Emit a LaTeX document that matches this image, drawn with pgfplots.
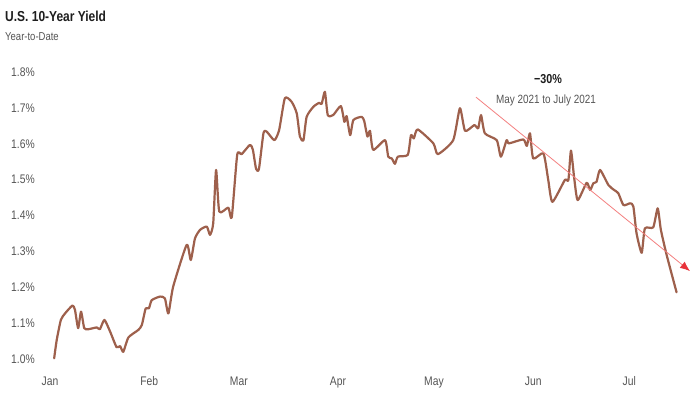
\documentclass[border=0pt]{standalone}
\usepackage{fontspec}
\setmainfont[FakeStretch=0.83]{Liberation Sans}
\usepackage{pgfplots}
\pgfplotsset{compat=1.18}
\usetikzlibrary{arrows.meta}
\definecolor{yieldline}{RGB}{158,96,76}
\definecolor{ticklab}{RGB}{85,85,85}
\definecolor{titlecol}{RGB}{30,30,30}
\definecolor{trendline}{RGB}{244,128,128}
\definecolor{trendhead}{RGB}{232,50,58}
\begin{document}
\begin{tikzpicture}
\useasboundingbox (0,0) rectangle (700bp,399bp);
\fill[white] (0,0) rectangle (700bp,399bp);
\begin{axis}[
  at={(40bp,40bp)}, anchor=south west,
  scale only axis, width=655bp, height=287bp,
  xmin=-3.125, xmax=201.5625, ymin=1.0, ymax=1.8,
  clip=false,
  axis line style={draw=none},
  tick style={draw=none},
  xtick={0,31,59,90,120,151,181},
  xticklabels={Jan,Feb,Mar,Apr,May,Jun,Jul},
  ytick={1.0,1.1,1.2,1.3,1.4,1.5,1.6,1.7,1.8},
  yticklabels={1.0\%,1.1\%,1.2\%,1.3\%,1.4\%,1.5\%,1.6\%,1.7\%,1.8\%},
  tick label style={font=\fontsize{12.5}{14}\selectfont, text=ticklab},
  yticklabel style={anchor=east, inner sep=0pt, xshift=-5bp},
  xticklabel style={anchor=base, inner sep=0pt, yshift=-27bp},
]
\addplot[color=yieldline, line width=2.2bp, line join=round, line cap=round, smooth, tension=0.35] coordinates {
(1.3,1.002) (2.1,1.053) (3.4,1.109) (4.7,1.127) (7.0,1.149) (7.8,1.137)
(8.8,1.086) (9.7,1.132) (10.7,1.086) (12.0,1.083) (14.6,1.088) (15.6,1.083)
(17.0,1.109) (18.8,1.076) (20.8,1.033) (21.9,1.036) (22.9,1.020) (24.5,1.060)
(27.6,1.081) (28.7,1.095) (29.9,1.141) (30.9,1.141) (31.8,1.164) (34.4,1.174)
(35.9,1.169) (37.0,1.127) (38.5,1.202) (42.7,1.318) (44.0,1.276) (45.3,1.336)
(46.9,1.360) (49.0,1.369) (50.0,1.346) (51.0,1.378) (51.9,1.527) (52.9,1.411)
(55.7,1.422) (56.8,1.395) (58.5,1.569) (59.9,1.571) (62.5,1.597) (63.4,1.583)
(64.4,1.530) (65.3,1.530) (66.7,1.629) (67.7,1.634) (70.1,1.610) (71.6,1.638)
(73.4,1.727) (75.5,1.717) (77.1,1.685) (78.1,1.620) (79.2,1.610) (80.2,1.675)
(82.3,1.703) (84.1,1.714) (84.9,1.711) (85.9,1.745) (86.8,1.680) (88.5,1.680)
(90.9,1.705) (92.0,1.661) (92.7,1.677) (93.8,1.624) (94.8,1.666) (97.4,1.675)
(98.2,1.663) (99.2,1.620) (100.0,1.636) (101.0,1.583) (104.7,1.610) (105.7,1.564)
(106.8,1.559) (107.8,1.544) (108.7,1.564) (111.8,1.569) (112.8,1.624) (113.7,1.615)
(114.9,1.640) (119.8,1.601) (121.2,1.571) (126.0,1.610) (128.1,1.699) (129.7,1.636)
(132.6,1.652) (133.8,1.643) (134.7,1.680) (135.9,1.629) (139.6,1.610) (140.9,1.564)
(142.7,1.610) (143.4,1.601) (147.9,1.612) (149.0,1.594) (150.0,1.629) (151.0,1.559)
(154.2,1.573) (155.7,1.499) (157.0,1.438) (160.9,1.499) (162.0,1.499) (162.8,1.581)
(163.8,1.505) (164.9,1.443) (167.7,1.491) (168.8,1.471) (169.8,1.490) (170.8,1.494)
(171.9,1.527) (174.5,1.485) (176.3,1.471) (177.6,1.462) (179.2,1.429) (181.3,1.434)
(182.3,1.425) (183.3,1.350) (184.9,1.296) (185.9,1.364) (188.5,1.367) (189.9,1.420)
(190.9,1.360) (192.7,1.290) (195.8,1.186)
};
\addplot[color=trendline, line width=0.8bp, -{Latex[length=10bp,width=8bp,color=trendhead]}] coordinates {(133.1,1.730) (200.0,1.245)};
\end{axis}
\node[anchor=base west, inner sep=0pt, text=titlecol, font=\fontsize{14.5}{16}\selectfont\bfseries] at (5bp,377bp) {U.S. 10-Year Yield};
\node[anchor=base west, inner sep=0pt, text=ticklab, font=\fontsize{11.5}{13}\selectfont] at (5bp,358.5bp) {Year-to-Date};
\node[anchor=base, inner sep=0pt, text=titlecol, font=\fontsize{13}{15}\selectfont\bfseries] at (548bp,315.5bp) {−30\%};
\node[anchor=base, inner sep=0pt, text=ticklab, font=\fontsize{12}{14}\selectfont] at (546bp,295.7bp) {May 2021 to July 2021};
\end{tikzpicture}
\end{document}
